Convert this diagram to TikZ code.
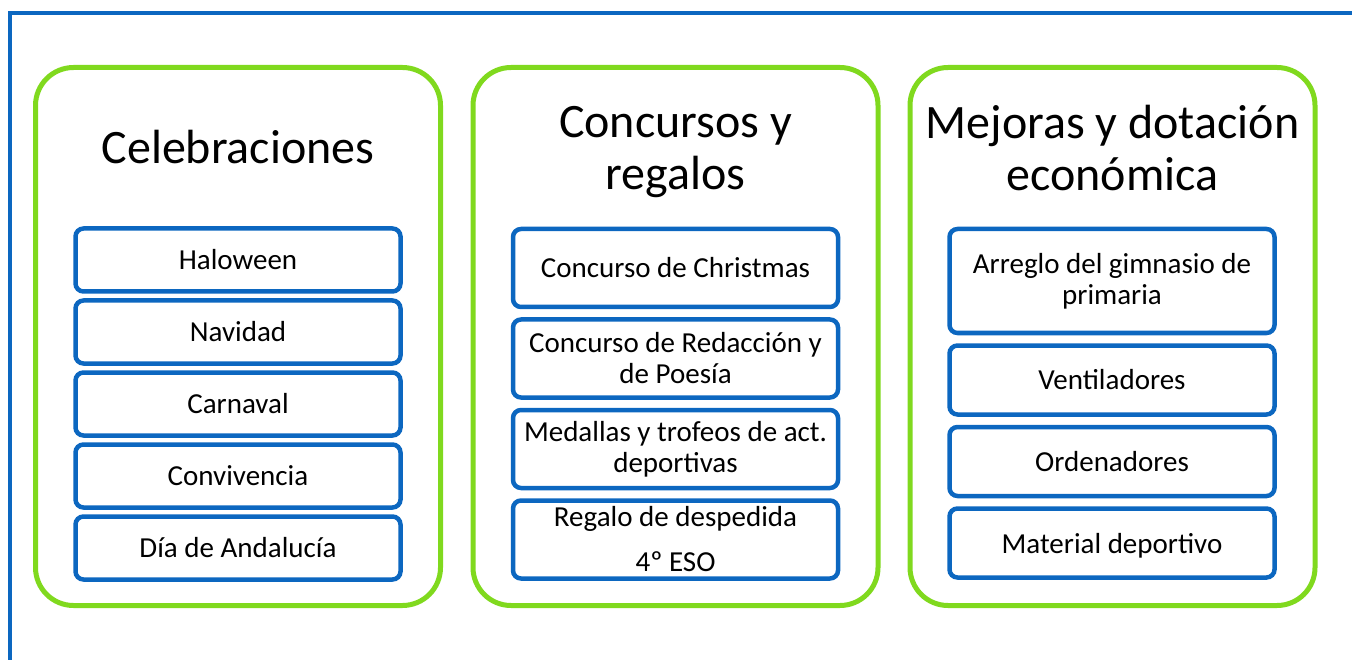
\documentclass[tikz,border=0pt]{standalone}
\usepackage{fontspec}
\setmainfont{Carlito}
\usetikzlibrary{positioning}
\definecolor{framecol}{RGB}{12,103,192}
\definecolor{panelcol}{RGB}{128,217,30}
\tikzset{
  panel/.style={draw=panelcol, line width=5pt, rounded corners=38pt,
    minimum width=405pt, minimum height=538pt},
  heading/.style={align=center, font=\fontsize{48}{52}\selectfont},
  entry/.style={draw=framecol, line width=4.5pt, rounded corners=8pt,
    align=center, inner sep=2pt, font=\fontsize{29}{31}\selectfont}
}
\begin{document}
\begin{tikzpicture}[x=1pt,y=-1pt]
  \useasboundingbox (0,0) rectangle (1352,660);
  % outer frame
  \draw[framecol, line width=4pt] (10,670) -- (10,13) -- (1360,13);
  % first column
  \node[panel] (celeb) at (238,336.5) {};
  \node[heading] (celebT) at (238,147) {Celebraciones};
  \node[entry, minimum width=325pt, minimum height=63pt] (halo) at (238,260) {Haloween};
  \node[entry, minimum width=325pt, minimum height=63pt, below=4.5pt of halo] (navidad) {Navidad};
  \node[entry, minimum width=325pt, minimum height=63pt, below=4.5pt of navidad] (carnaval) {Carnaval};
  \node[entry, minimum width=325pt, minimum height=63pt, below=4.5pt of carnaval] (convivencia) {Convivencia};
  \node[entry, minimum width=325pt, minimum height=63pt, below=4.5pt of convivencia] (andalucia) {Día de Andalucía};
  % second column
  \node[panel] (concursos) at (675.5,336.5) {};
  \node[heading] (concursosT) at (675.5,152) {Concursos y\\regalos};
  \node[entry, minimum width=325pt, minimum height=78pt] (christmas) at (675.5,268) {Concurso de Christmas};
  \node[entry, minimum width=325pt, minimum height=78pt, below=8pt of christmas] (redaccion) {Concurso de Redacción y\\de Poesía};
  \node[entry, minimum width=325pt, minimum height=78pt, below=8pt of redaccion] (medallas) {Medallas y trofeos de act.\\deportivas};
  \node[entry, minimum width=325pt, minimum height=78pt, below=8pt of medallas] (regalo) {Regalo de despedida\\[14pt]4º ESO};
  % third column
  \node[panel] (mejoras) at (1112.5,336.5) {};
  \node[heading] (mejorasT) at (1112.5,148) {Mejoras y dotación\\económica};
  \node[entry, minimum width=325pt, minimum height=104pt] (gimnasio) at (1112,281) {Arreglo del gimnasio de\\primaria};
  \node[entry, minimum width=325pt, minimum height=69pt, below=8pt of gimnasio] (ventiladores) {Ventiladores};
  \node[entry, minimum width=325pt, minimum height=69pt, below=8pt of ventiladores] (ordenadores) {Ordenadores};
  \node[entry, minimum width=325pt, minimum height=69pt, text depth=0pt, below=8pt of ordenadores] (material) {Material deportivo};
\end{tikzpicture}
\end{document}
